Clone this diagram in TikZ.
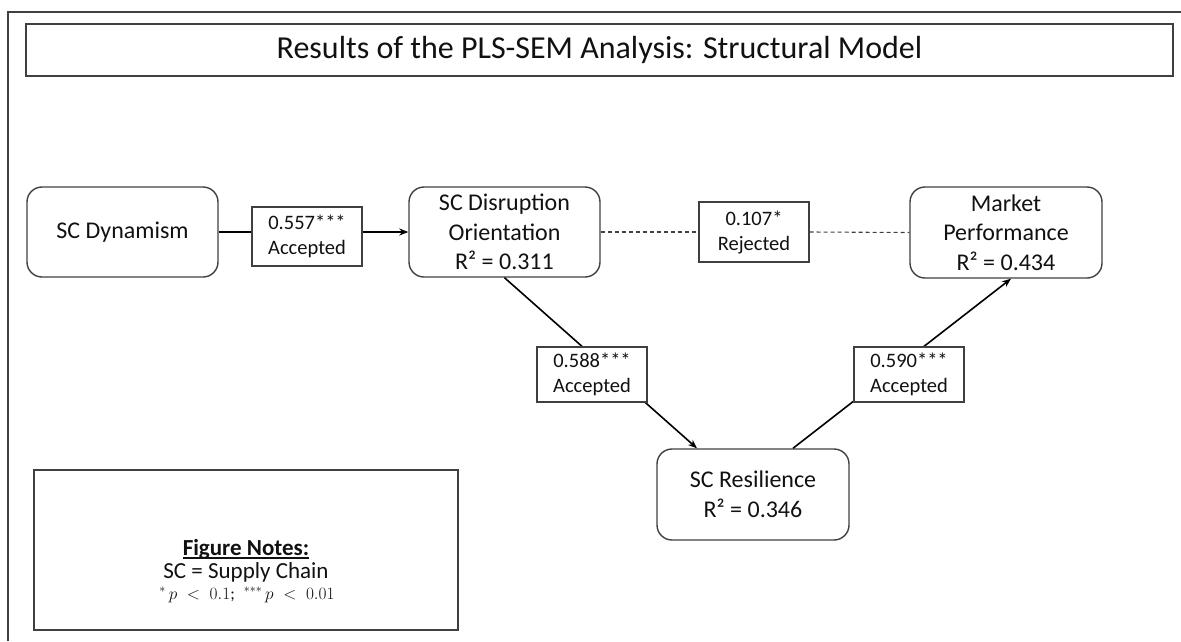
\documentclass[tikz,border=0pt]{standalone}
\usepackage{fontspec}
\setmainfont{Carlito}
\usetikzlibrary{arrows.meta,calc}
\definecolor{boxgray}{HTML}{404040}
\definecolor{txt}{HTML}{111111}
\begin{document}
\begin{tikzpicture}[x=1pt,y=-1pt,
  framecol/.style={draw=boxgray, line width=1.4pt},
  nodebox/.style={draw=boxgray, line width=1.4pt, rounded corners=15pt, minimum width=191pt, minimum height=90pt, align=center, font=\fontsize{24}{29.5}\selectfont, inner sep=0pt, text=txt},
  labbox/.style={draw=boxgray, line width=1.3pt, fill=white, minimum width=110pt, align=center, font=\fontsize{20.5}{25}\selectfont, inner sep=0pt, text=txt},
  conn/.style={draw=black, line width=1.6pt},
  arr/.style={conn, -{Stealth[length=9pt,width=7pt]}},
  dashconn/.style={draw=boxgray, line width=1.1pt, dash pattern=on 4pt off 3pt},
  txtnode/.style={inner sep=0pt, anchor=base, text=txt}
]
\useasboundingbox (0,0) rectangle (1181,641);
% outer frame (cropped)
\draw[framecol] (8,641) -- (8,12) -- (1181,12);
% title
\node[framecol, minimum width=1147pt, minimum height=52pt, inner sep=0pt] (titlebox) at (599.5,50) {};
\node[txtnode, font=\fontsize{32}{38}\selectfont] (title) at (599.5,58) {Results of the PLS-SEM Analysis: Structural Model};
% main nodes
\node[nodebox] (dyn) at (122.5,232) {SC Dynamism};
\node[nodebox] (dso) at (504.5,232) {SC Disruption\\Orientation\\R² = 0.311};
\node[nodebox, minimum width=192pt, minimum height=91pt] (mp) at (1006,232.5) {Market\\Performance\\R² = 0.434};
\node[nodebox, minimum width=192pt, minimum height=91pt] (res) at (753,494.5) {SC Resilience\\R² = 0.346};
% diagonal connectors
\draw[arr] (dso.south) -- ($(res.north)+(-56,0)$);
\draw[arr] ($(res.north)+(40,0)$) -- ($(mp.south)+(5,0)$);
% labels
\node[labbox, minimum height=59pt] (l1) at (307,236.5) {0.557***\\Accepted};
\node[labbox, minimum height=60pt] (l2) at (754,232) {0.107*\\Rejected};
\node[labbox, minimum height=55pt] (l3) at (592,374.5) {0.588***\\Accepted};
\node[labbox, minimum height=55pt] (l4) at (909,374.5) {0.590***\\Accepted};
% horizontal connectors
\draw[conn] (dyn.east) -- (dyn.east -| l1.west);
\draw[arr] (dyn.east -| l1.east) -- (dso.west);
\draw[dashconn] (dso.east) -- (l2.west);
\draw[dashconn] (l2.east) -- (mp.west);
% notes
\node[framecol, minimum width=424pt, minimum height=160pt, inner sep=0pt] (notes) at (246,550) {};
\node[txtnode, font=\fontsize{23}{28}\selectfont\bfseries] (n1) at (246,555) {Figure Notes:};
\draw[draw=txt, line width=1.2pt] ($(n1.base west)+(0,3)$) -- ($(n1.base east)+(0,3)$);
\node[txtnode, font=\fontsize{23}{28}\selectfont] (n2) at (246,578) {SC = Supply Chain};
\node[txtnode, font=\fontsize{17}{20}\selectfont] (n3) at (247,599) {$^{*}\,p\;<\;0.1$;\hspace{9pt}$^{***}\,p\;<\;0.01$};
\end{tikzpicture}
\end{document}
